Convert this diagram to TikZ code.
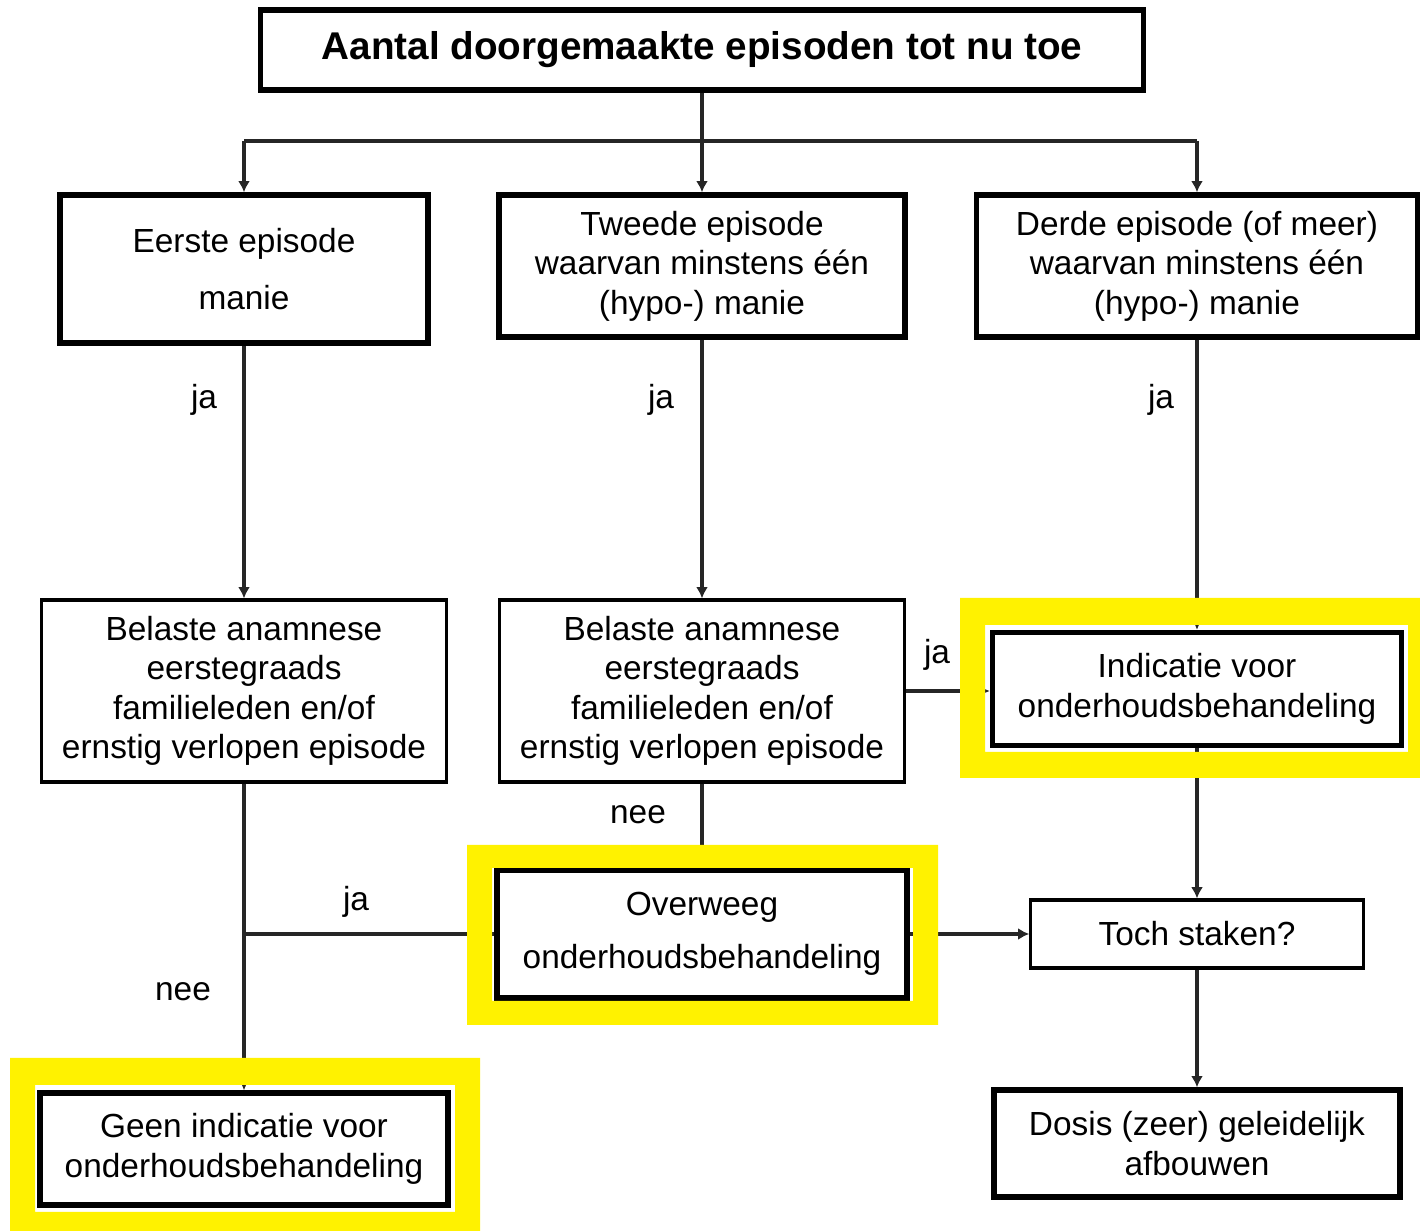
\documentclass[tikz,border=0pt]{standalone}
\usepackage{fontspec}
\setmainfont{Liberation Sans}
\usetikzlibrary{arrows.meta}
\begin{document}
\begin{tikzpicture}[x=0.01cm,y=-0.01cm,
  boxbase/.style={draw=black,fill=white,align=center,inner sep=2pt,
    font=\fontsize{9.5}{11.2}\selectfont},
  thickbox/.style={boxbase,line width=1.5pt},
  thinbox/.style={boxbase,line width=0.9pt},
  conn/.style={draw=black!85,line width=0.9pt},
  arr/.style={conn,-{Latex[length=3.2pt,width=3.4pt]}},
  lbl/.style={font=\fontsize{9.5}{11.2}\selectfont,inner sep=0pt},
  hilite/.style={fill=yellow,even odd rule}]
\useasboundingbox (0,0) rectangle (1420,1231);

% nodes
\node[thickbox,minimum width=8.82cm,minimum height=0.80cm,font=\fontsize{11}{13}\selectfont\bfseries] (title) at (702,50) {Aantal doorgemaakte episoden tot nu toe};
\node[thickbox,minimum width=3.68cm,minimum height=1.48cm] (b1) at (244,269) {Eerste episode\\[5pt]manie};
\node[thickbox,minimum width=4.06cm,minimum height=1.42cm] (b2) at (702,266) {Tweede episode\\waarvan minstens één\\(hypo-) manie};
\node[thickbox,minimum width=4.41cm,minimum height=1.42cm] (b3) at (1197,266) {Derde episode (of meer)\\waarvan minstens één\\(hypo-) manie};
\node[thinbox,minimum width=4.04cm,minimum height=1.82cm] (b4) at (244,691) {Belaste anamnese\\eerstegraads\\familieleden en/of\\ernstig verlopen episode};
\node[thinbox,minimum width=4.04cm,minimum height=1.82cm] (b5) at (702,691) {Belaste anamnese\\eerstegraads\\familieleden en/of\\ernstig verlopen episode};
\node[thickbox,minimum width=4.09cm,minimum height=1.13cm] (ind) at (1197,689) {Indicatie voor\\onderhoudsbehandeling};
\node[thickbox,minimum width=4.10cm,minimum height=1.28cm] (ovw) at (702,934) {Overweeg\\[4pt]onderhoudsbehandeling};
\node[thinbox,minimum width=3.32cm,minimum height=0.68cm] (toch) at (1197,934) {Toch staken?};
\node[thickbox,minimum width=4.06cm,minimum height=1.07cm] (dosis) at (1197,1143.5) {Dosis (zeer) geleidelijk\\afbouwen};
\node[thickbox,minimum width=4.08cm,minimum height=1.12cm] (geen) at (244,1149) {Geen indicatie voor\\onderhoudsbehandeling};

% connectors
\coordinate (hL) at (244,141);
\coordinate (hM) at (702,141);
\coordinate (hR) at (1197,141);
\coordinate (jL) at (244,934);
\draw[conn] (title.south) -- (hM);
\draw[conn] (hL) -- (hR);
\draw[arr] (hL) -- (b1.north);
\draw[arr] (hM) -- (b2.north);
\draw[arr] (hR) -- (b3.north);
\draw[arr] (b1.south) -- (b4.north);
\draw[arr] (b2.south) -- (b5.north);
\draw[arr] (b3.south) -- (ind.north);
\draw[arr] (b5.east) -- (b5.east -| ind.west);
\draw[conn] (b5.south) -- (ovw.north);
\draw[arr] (b4.south) -- (geen.north);
\draw[conn] (jL) -- (jL -| ovw.west);
\draw[arr] (ovw.east) -- (toch.west);
\draw[arr] (ind.south) -- (toch.north);
\draw[arr] (toch.south) -- (dosis.north);

% labels
\node[lbl] (l1) at (204,400) {ja};
\node[lbl] (l2) at (661,400) {ja};
\node[lbl] (l3) at (1161,400) {ja};
\node[lbl] (l4) at (937,655) {ja};
\node[lbl] (l5) at (356,902) {ja};
\node[lbl] (l6) at (638,815) {nee};
\node[lbl] (l7) at (183,992) {nee};

% yellow highlights
\fill[hilite] (960,598) rectangle (1420,778) (985,625) rectangle (1408,752);
\fill[hilite] (467,845) rectangle (938,1025) (492,868) rectangle (913,1001);
\fill[hilite] (10,1058) rectangle (480,1231) (35,1085) rectangle (455,1212);
\end{tikzpicture}
\end{document}
